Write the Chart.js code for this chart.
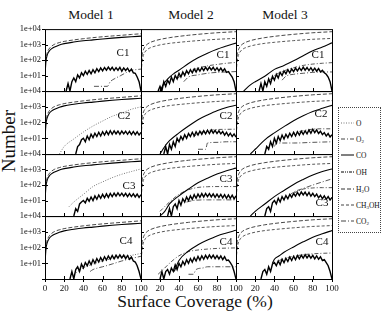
<!DOCTYPE html>
<html>
<head>
<meta charset="utf-8">
<script src="https://cdn.jsdelivr.net/npm/chart.js"></script>
<title>Number vs surface coverage</title>
<style>
	body { margin:0; background:#fff; width:382px; height:313px; overflow:hidden; position:relative; font-family:"Liberation Serif", "Times New Roman", serif; color:#111; }
	canvas { position:absolute; }
	.txt { position:absolute; white-space:nowrap; transform:translate(-50%,-50%); line-height:1; }
	.model { font-size:13.5px; top:15px; }
	#ytitle { left:8px; top:141px; font-size:19px; transform:translate(-50%,-50%) rotate(-90deg); }
	#xtitle { left:195px; top:302px; font-size:17.5px; }
	#legend { position:absolute; left:338px; top:107px; width:41px; height:124px; border:1.5px dotted #444; overflow:hidden; }
	#legend .item { position:absolute; left:2px; height:8px; font-size:7.5px; white-space:nowrap; }
	#legend svg { position:absolute; left:0; top:1px; }
	#legend span { position:absolute; left:15px; top:-1px; }
	sub { font-size:5px; vertical-align:-1px; }
</style>
</head>
<body>

<div class="txt model" style="left:91px">Model 1</div>
<div class="txt model" style="left:191px">Model 2</div>
<div class="txt model" style="left:285px">Model 3</div>
<div class="txt" id="ytitle">Number</div>
<div class="txt" id="xtitle">Surface Coverage (%)</div>
<div id="legend"></div>

<script>
// legend entries
var species = ['o', 'o2', 'co', 'oh', 'h2o', 'meoh', 'co2'];
var speciesNames = ['O', 'O<sub>2</sub>', 'CO', 'OH', 'H<sub>2</sub>O', 'CH<sub>3</sub>OH', 'CO<sub>2</sub>'];

// top curves [coverage %, number]
var topDashM1 = [[0,12],[1,120],[2,260],[4,500],[7,800],[10,1050],[15,1350],[20,1600],[30,2000],[40,2400],[50,2800],[60,3200],[70,3600],[80,4000],[90,4500],[100,5000]];
var topCoM1 = [[0,10],[1,80],[2,180],[4,350],[7,550],[10,700],[15,950],[20,1150],[30,1450],[40,1750],[50,2000],[60,2300],[70,2600],[80,2900],[90,3200],[100,3500]];
var h2oM23 = [[0,12],[1,150],[2,350],[4,700],[7,1100],[10,1400],[15,1800],[20,2150],[30,2800],[40,3400],[50,4000],[60,4600],[70,5200],[80,5800],[90,6300],[100,6800]];
var meohM23 = [[0,8],[1,70],[2,160],[4,320],[7,500],[10,630],[15,800],[20,950],[30,1200],[40,1400],[50,1600],[60,1800],[70,2000],[80,2200],[90,2350],[100,2500]];

// CO (solid) in models 2 and 3
var coM2C1 = [[20,1],[24,3],[30,8],[35,14],[40,22],[50,60],[60,140],[70,280],[80,500],[90,800],[100,1250]];
var coM3C1 = [[8,1],[15,2.5],[20,4],[30,9],[40,25],[50,45],[60,90],[70,190],[80,400],[90,700],[100,1300]];
var coM2C2 = [[20,1],[25,3],[30,7],[40,22],[50,60],[60,150],[70,300],[80,560],[90,900],[100,1250]];
var coM3C2 = [[15,1],[20,2],[30,8],[40,22],[50,55],[60,130],[70,270],[80,500],[90,800],[100,1250]];
var coM2C3 = [[20,1],[25,2],[30,6],[40,20],[50,55],[60,140],[70,280],[80,520],[90,850],[100,1250]];
var coM3C3 = [[15,1],[20,2],[30,6],[40,18],[50,45],[60,110],[70,230],[80,450],[90,750],[100,1100]];
var coM2C4 = [[35,3],[40,15],[50,60],[60,150],[70,300],[80,550],[90,850],[100,1250]];
var coM3C4 = [[38,10],[40,18],[45,30],[50,50],[60,110],[70,230],[80,450],[90,750],[100,1200]];

// O (dotted)
var oM1C2 = [[15,1],[20,3],[30,9],[40,25],[50,60],[60,125],[70,250],[80,400],[90,700],[100,1000]];
var oM1C3 = [[25,4],[30,8],[40,25],[50,80],[60,160],[70,300],[80,500],[90,750],[100,1100]];
var oM1C4 = [[30,2],[40,5],[50,9],[60,14],[70,20],[80,26],[90,32],[100,42]];

// O2 / CO2 (dash-dot)
var co2M1C1 = [[51,2],[65,2],[68,4],[72,6],[79,10],[85,16],[89,21],[95,24],[100,26]];
var o2M2C1 = [[38,6],[42,10],[50,18],[60,30],[70,42],[80,52],[90,62],[100,70]];
var co2M2C1 = [[45,4],[50,8],[60,11],[70,14],[80,16],[90,17],[100,18]];
var o2M3C1 = [[35,5],[40,10],[50,20],[60,32],[70,45],[80,55],[90,62],[100,68]];
var co2M3C1 = [[48,5],[52,9],[60,12],[70,14],[80,16],[90,17],[100,17]];
var o2M2C2 = [[55,12],[60,20],[70,30],[80,36],[90,37],[100,38]];
var co2M2C2 = [[60,2],[68,2],[70,5],[80,5.5],[90,6],[100,6]];
var o2M3C2 = [[58,15],[60,20],[70,30],[80,38],[90,40],[100,40]];
var co2M3C2 = [[40,3],[42,5],[60,5],[80,5.5],[100,6]];
var o2M2C3 = [[20,2],[30,8],[40,25],[50,50],[60,70],[70,78],[80,80],[90,80],[100,80]];
var co2M2C3 = [[48,8],[55,10],[70,11],[100,11]];
var o2M3C3 = [[60,30],[70,55],[80,65],[90,68],[100,68]];
var co2M3C3 = [[55,20],[60,35],[70,60],[80,100],[90,160],[100,250]];
var co2M1C4 = [[47,3],[50,4],[55,5],[60,6],[70,9],[80,14],[90,20],[100,28]];
var o2M2C4 = [[18,2],[25,5],[30,10],[40,30],[50,55],[60,70],[70,80],[80,88],[90,92],[100,95]];
var co2M2C4 = [[50,2],[55,2],[58,4],[65,5],[70,6],[80,6],[100,6]];
var o2M3C4 = [[45,15],[50,20],[60,28],[70,35],[80,40],[90,43],[100,45]];

// noisy OH counts, one value every 2 %, last value at 100 %
var ohM1C1 = [1,3,1,4,7,4,11,7,15,10,19,12,21,13,24,15,28,18,31,20,33,22,35,23,34,21,32,22,34,19,31,21,30,18,26,15,14,8,4,1];
var ohM2C1 = [1,2,1,4,2,5,3,8,4,10,6,14,8,17,10,21,13,24,15,27,17,30,19,32,21,35,22,35,23,34,21,32,20,30,19,27,16,18,12,8,4,1];
var ohM3C1 = [1,3,1,4,2,6,3,9,5,12,7,16,10,20,13,24,15,27,18,30,20,32,21,35,22,33,21,32,20,30,19,28,17,22,15,12,8,4,1];
var ohM1C2 = [1,3,4,8,10,6,14,8,18,11,21,13,24,14,26,16,28,17,30,18,30,19,29,18,29,19,28,18,28,17,27,17,26,16,24];
var ohM2C2 = [1,3,1,4,2,6,3,10,6,13,8,17,10,20,13,24,14,26,16,28,18,30,19,33,20,34,21,32,20,30,19,27,16,24,14,21,13,19,12];
var ohM3C2 = [1,3,2,6,3,10,5,13,7,16,9,18,11,21,13,24,14,26,16,28,18,30,19,34,21,38,23,34,20,28,17,23,14,20,12,17];
var ohM1C3 = [1,3,2,6,8,10,7,14,9,17,10,20,12,23,14,25,15,27,16,29,18,30,19,31,20,30,19,29,18,28,18,27,17,26,16,24];
var ohM2C3 = [1,3,1,4,6,3,10,5,13,8,17,10,20,12,24,14,26,16,28,17,29,18,28,17,27,16,26,16,25,15,24,14,23,14,22,13,20];
var ohM3C3 = [1,3,4,2,7,10,6,14,8,18,11,21,13,25,16,29,19,33,21,36,23,35,21,33,19,29,18,26,15,22,13,20,12,18,11,16];
var ohM1C4 = [1,3,1,4,6,3,9,5,11,7,14,8,17,10,20,12,23,14,26,16,29,18,31,19,33,21,34,22,33,20,31,18,25,14,12,7,3,1];
var ohM2C4 = [1,3,1,3,4,2,5,3,8,4,10,6,13,8,17,10,20,12,23,14,27,16,30,18,32,20,34,21,33,20,31,19,29,17,26,15,16,11,7,3,1];
var ohM3C4 = [1,3,4,2,6,3,9,11,7,14,8,18,11,21,13,25,15,28,17,31,19,33,21,35,22,33,21,32,19,30,18,26,15,17,11,7,3,1];

var yTicks = [1, 10, 100, 1000, 10000];
var xTicks = [0, 20, 40, 60, 80, 100];

// panel layout (pixels)
var colX = [45, 141, 236, 332];
var rowY = [29, 91, 154, 216, 279];
var ML = 44, MR = 12, MT = 6, MB = 22;
var serif = '"Liberation Serif", "Times New Roman", serif';

var styles = {
	o:    {borderColor:'#777', borderDash:[1,1.5], borderWidth:1},
	o2:   {borderColor:'#444', borderDash:[4,2,1,2], borderWidth:0.9},
	co:   {borderColor:'#000', borderDash:[], borderWidth:1.1},
	oh:   {borderColor:'#000', borderDash:[], borderWidth:1.4},
	h2o:  {borderColor:'#333', borderDash:[4,2], borderWidth:0.9},
	meoh: {borderColor:'#444', borderDash:[3,2], borderWidth:0.9},
	co2:  {borderColor:'#444', borderDash:[5,2,1,2], borderWidth:0.9}
};
var legendDash = {o:'1,1.5', o2:'4,2,1,2', co:'', oh:'3,1,1,1,1,1', h2o:'4,2', meoh:'3,2', co2:'5,2,1,2'};

var panels = [
	{r:0, c:0, text:'C1', at:[78,24], oh:ohM1C1, lines:[['h2o',topDashM1],['co',topCoM1],['co2',co2M1C1]]},
	{r:0, c:1, text:'C1', at:[82,26], oh:ohM2C1, lines:[['h2o',h2oM23],['meoh',meohM23],['co',coM2C1],['o2',o2M2C1],['co2',co2M2C1]]},
	{r:0, c:2, text:'C1', at:[82,26], oh:ohM3C1, lines:[['h2o',h2oM23],['meoh',meohM23],['co',coM3C1],['o2',o2M3C1],['co2',co2M3C1]]},
	{r:1, c:0, text:'C2', at:[79,25], oh:ohM1C2, lines:[['h2o',topDashM1],['co',topCoM1],['o',oM1C2]]},
	{r:1, c:1, text:'C2', at:[85,25], oh:ohM2C2, lines:[['h2o',h2oM23],['meoh',meohM23],['co',coM2C2],['o2',o2M2C2],['co2',co2M2C2]]},
	{r:1, c:2, text:'C2', at:[85,23], oh:ohM3C2, lines:[['h2o',h2oM23],['meoh',meohM23],['co',coM3C2],['o2',o2M3C2],['co2',co2M3C2]]},
	{r:2, c:0, text:'C3', at:[84,32], oh:ohM1C3, lines:[['h2o',topDashM1],['co',topCoM1],['o',oM1C3]]},
	{r:2, c:1, text:'C3', at:[85,25], oh:ohM2C3, lines:[['h2o',h2oM23],['meoh',meohM23],['co',coM2C3],['o2',o2M2C3],['co2',co2M2C3]]},
	{r:2, c:2, text:'C3', at:[86,49], oh:ohM3C3, lines:[['h2o',h2oM23],['meoh',meohM23],['co',coM3C3],['o2',o2M3C3],['co2',co2M3C3]]},
	{r:3, c:0, text:'C4', at:[81,25], oh:ohM1C4, lines:[['h2o',topDashM1],['co',topCoM1],['o',oM1C4],['co2',co2M1C4]]},
	{r:3, c:1, text:'C4', at:[85,26], oh:ohM2C4, lines:[['h2o',h2oM23],['meoh',meohM23],['co',coM2C4],['o2',o2M2C4],['co2',co2M2C4]]},
	{r:3, c:2, text:'C4', at:[86,26], oh:ohM3C4, lines:[['h2o',h2oM23],['meoh',meohM23],['co',coM3C4],['o2',o2M3C4]]}
];

// frame, inward ticks and panel label
var panelDeco = {
	id: 'panelDeco',
	afterDraw: function(chart, args, opts) {
		var a = chart.chartArea, ctx = chart.ctx;
		var xs = chart.scales.x, ys = chart.scales.y;
		ctx.save();
		ctx.strokeStyle = '#000';
		ctx.lineWidth = 1;
		ctx.strokeRect(a.left + 0.5, a.top + 0.5, a.right - a.left, a.bottom - a.top);
		ctx.beginPath();
		yTicks.slice(1, -1).forEach(function(v) {
			var y = Math.round(ys.getPixelForValue(v)) + 0.5;
			ctx.moveTo(a.left, y); ctx.lineTo(a.left + 3, y);
		});
		xTicks.slice(1, -1).forEach(function(v) {
			var x = Math.round(xs.getPixelForValue(v)) + 0.5;
			ctx.moveTo(x, a.bottom); ctx.lineTo(x, a.bottom - 3);
		});
		ctx.stroke();
		ctx.fillStyle = '#111';
		ctx.font = '11px ' + serif;
		ctx.textAlign = 'center';
		ctx.textBaseline = 'middle';
		ctx.fillText(opts.text, a.left + opts.at[0], a.top + opts.at[1]);
		ctx.restore();
	}
};

function pairs(list) {
	return list.map(function(p) { return {x: p[0], y: p[1]}; });
}

panels.forEach(function(p) {
	var pw = colX[p.c + 1] - colX[p.c];
	var ph = rowY[p.r + 1] - rowY[p.r];
	var cv = document.createElement('canvas');
	cv.width = pw + ML + MR;
	cv.height = ph + MT + MB;
	cv.style.left = (colX[p.c] - ML) + 'px';
	cv.style.top = (rowY[p.r] - MT) + 'px';
	cv.style.width = cv.width + 'px';
	cv.style.height = cv.height + 'px';
	document.body.appendChild(cv);

	var sets = [];
	var ohPts = p.oh.map(function(y, i) { return {x: 100 - 2 * (p.oh.length - 1 - i), y: y}; });
	sets.push(Object.assign({data: ohPts, tension: 0}, styles.oh));
	p.lines.forEach(function(l) {
		sets.push(Object.assign({data: pairs(l[1]), cubicInterpolationMode: 'monotone'}, styles[l[0]]));
	});

	new Chart(cv, {
		type: 'line',
		data: {datasets: sets},
		plugins: [panelDeco],
		options: {
			responsive: false,
			animation: false,
			devicePixelRatio: 1,
			layout: {padding: {top: MT, right: MR, left: 0, bottom: 0}},
			elements: {point: {radius: 0}},
			plugins: {legend: {display: false}, tooltip: {enabled: false}, panelDeco: {text: p.text, at: p.at}},
			scales: {
				x: {
					type: 'linear', min: 0, max: 100,
					afterFit: function(s) { s.height = MB; },
					afterBuildTicks: function(s) { s.ticks = xTicks.map(function(v) { return {value: v}; }); },
					border: {display: false},
					grid: {display: p.r === 3, drawOnChartArea: false, tickLength: 3, color: '#000'},
					ticks: {
						padding: 1, maxRotation: 0, autoSkip: false, color: '#111',
						font: {family: serif, size: 9},
						callback: function(v) { return (p.r === 3 && !(p.c > 0 && v === 0)) ? String(v) : ''; }
					}
				},
				y: {
					type: 'logarithmic', min: 1, max: 10000,
					afterFit: function(s) { s.width = ML; },
					afterBuildTicks: function(s) { s.ticks = yTicks.map(function(v) { return {value: v}; }); },
					border: {display: false},
					grid: {display: p.c === 0, drawOnChartArea: false, tickLength: 3, color: '#000'},
					ticks: {
						padding: 1, color: '#111',
						font: {family: serif, size: 8.5},
						callback: function(v) { return (p.c === 0 && v > 1) ? '1e+0' + Math.round(Math.log10(v)) : ''; }
					}
				}
			}
		}
	});
});

// legend box
var legend = document.getElementById('legend');
var legendTop = [12, 28, 44, 61, 78, 94, 110];
species.forEach(function(k, i) {
	var it = document.createElement('div');
	it.className = 'item';
	it.style.top = legendTop[i] + 'px';
	var st = styles[k];
	it.innerHTML = '<svg width="13" height="4"><line x1="0" y1="2" x2="13" y2="2" stroke="' + st.borderColor +
		'" stroke-width="1" stroke-dasharray="' + legendDash[k] + '"/></svg><span>' + speciesNames[i] + '</span>';
	legend.appendChild(it);
});
</script>

</body>
</html>
